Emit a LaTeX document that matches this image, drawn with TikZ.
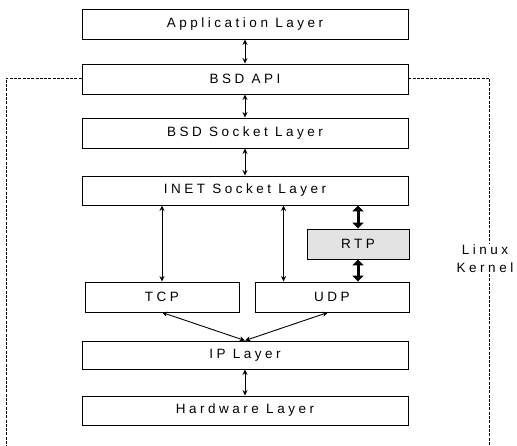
\documentclass[tikz,border=0pt]{standalone}
\usepackage{fontspec}
\setmainfont[LetterSpace=26]{Liberation Sans}
\usetikzlibrary{arrows.meta,calc}
\begin{document}
\begin{tikzpicture}[x=1pt,y=-1pt,
  layer/.style={draw, line width=0.9pt, minimum height=30pt, inner sep=0pt, font=\fontsize{13.5}{16}\selectfont},
  wide/.style={layer, minimum width=326pt},
  thin/.style={line width=0.9pt, {Stealth[length=5.5pt,width=5pt]}-{Stealth[length=5.5pt,width=5pt]}},
  thick/.style={line width=3pt, {Triangle[length=6pt,width=11pt]}-{Triangle[length=6pt,width=11pt]}},
  kern/.style={line width=0.9pt, dash pattern=on 3pt off 1.3pt}
]
\useasboundingbox (0,0) rectangle (517,446);
\node[wide] (app) at (245,24) {Application Layer};
\node[wide] (api) at (245,79) {BSD API};
\node[wide] (bsd) at (245,133) {BSD Socket Layer};
\node[wide, minimum height=29pt] (inet) at (245,190.5) {INET Socket Layer};
\node[layer, minimum width=102pt, fill=gray!22] (rtp) at (358,244) {RTP};
\node[layer, minimum width=154pt] (tcp) at (162,297) {TCP};
\node[layer, minimum width=154pt] (udp) at (332,297) {UDP};
\node[wide, minimum height=28pt] (ip) at (245,355) {IP Layer};
\node[wide, minimum height=29pt] (hw) at (245,410.5) {Hardware Layer};
\node[font=\fontsize{13.5}{18}\selectfont, align=center, inner sep=1pt] (kernel) at (485,259) {Linux\\Kernel};

\draw[thin] (app) -- (api);
\draw[thin] (api) -- (bsd);
\draw[thin] (bsd) -- (inet);
\draw[thin] (tcp.north) -- (tcp.north |- inet.south);
\coordinate (udpin) at ([xshift=29pt]udp.north west);
\draw[thin] (udpin) -- (udpin |- inet.south);
\draw[thick] (rtp.north |- inet.south) -- (rtp.north);
\draw[thick] (rtp.south) -- (rtp.south |- udp.north);
\draw[thin] (tcp.south) -- (ip.north);
\coordinate (udpout) at ([xshift=-4pt]udp.south);
\draw[thin] (udpout) -- (ip.north);
\draw[thin] (ip) -- (hw);

\coordinate (lc) at (6,78);
\coordinate (lb) at (6,446);
\coordinate (rc) at (489,78);
\coordinate (rb) at (489,446);
\draw[kern] (api.west |- lc) -- (lc) -- (lb);
\draw[kern] (api.east |- rc) -- (rc) -- (rc |- kernel.north);
\draw[kern] (rc |- kernel.south) -- (rb);
\end{tikzpicture}
\end{document}
